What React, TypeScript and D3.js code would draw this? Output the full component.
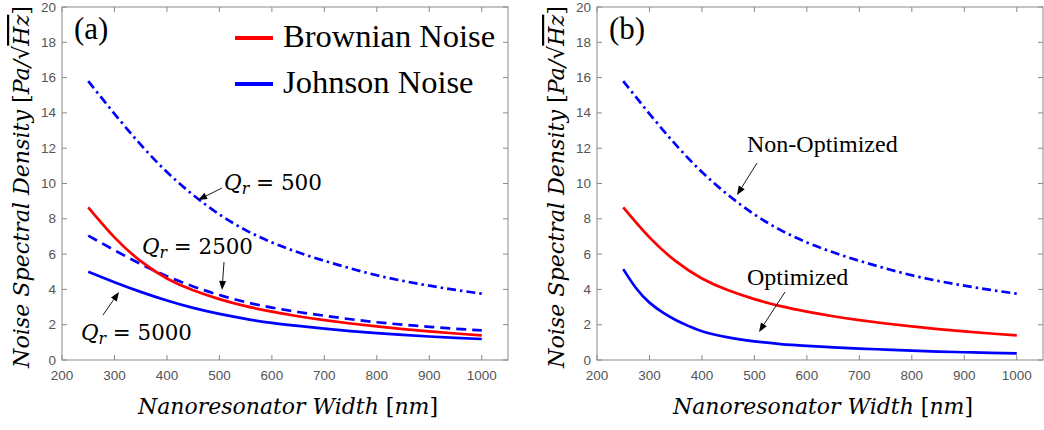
import React from "react";
import * as d3 from "d3";

// ---------- data ----------
const widths = [250, 300, 350, 400, 450, 500, 550, 600, 650, 700, 750, 800, 850, 900, 950, 1000];
const brownian = [8.65, 6.95, 5.6, 4.62, 3.95, 3.45, 3.05, 2.74, 2.48, 2.26, 2.07, 1.9, 1.75, 1.62, 1.5, 1.39];
const johnsonQ500 = [15.8, 13.95, 12.2, 10.65, 9.35, 8.25, 7.36, 6.66, 6.1, 5.62, 5.19, 4.8, 4.48, 4.21, 3.97, 3.76];
const johnsonQ2500 = [7.05, 6.22, 5.44, 4.75, 4.17, 3.68, 3.28, 2.97, 2.72, 2.51, 2.31, 2.14, 2.0, 1.88, 1.77, 1.68];
const johnsonQ5000 = [5.0, 4.41, 3.86, 3.37, 2.95, 2.61, 2.33, 2.1, 1.93, 1.78, 1.64, 1.52, 1.42, 1.33, 1.25, 1.19];
const optWidths = [250, 275, 300, 325, 350, 375, 400, 450, 500, 550, 600, 650, 700, 750, 800, 850, 900, 950, 1000];
const johnsonOptimized = [5.15, 4.05, 3.25, 2.7, 2.27, 1.92, 1.63, 1.28, 1.06, 0.9, 0.8, 0.72, 0.65, 0.59, 0.53, 0.48, 0.44, 0.4, 0.37];

const xTicks = [200, 300, 400, 500, 600, 700, 800, 900, 1000];
const yTicks = [0, 2, 4, 6, 8, 10, 12, 14, 16, 18, 20];
const legendLabels = ["Brownian Noise", "Johnson Noise"];

const RED = "#ff0000";
const BLUE = "#0000ff";
const AXIS = "#8a8a8a";
const TICKTXT = "#555555";

type Series = { xs: number[]; ys: number[]; color: string; dash?: string };

function Panel({ left, right, series, letter }: { left: number; right: number; series: Series[]; letter: string }) {
  const top = 7;
  const bottom = 360;
  const x = d3.scaleLinear().domain([200, 1050]).range([left, right]);
  const y = d3.scaleLinear().domain([0, 20]).range([bottom, top]);
  const tl = 5;
  return (
    <g>
      {series.map((s, i) => {
        const pts: [number, number][] = s.xs.map((v, j) => [v, s.ys[j]]);
        const line = d3
          .line<[number, number]>()
          .x((d) => x(d[0]))
          .y((d) => y(d[1]))
          .curve(d3.curveNatural);
        return (
          <path
            key={i}
            d={line(pts) || ""}
            fill="none"
            stroke={s.color}
            strokeWidth={2.7}
            strokeDasharray={s.dash}
          />
        );
      })}
      <rect x={left} y={top} width={right - left} height={bottom - top} fill="none" stroke={AXIS} strokeWidth={1} />
      {xTicks.map((t) => (
        <g key={"x" + t}>
          <line x1={x(t)} x2={x(t)} y1={bottom} y2={bottom - tl} stroke={AXIS} />
          <line x1={x(t)} x2={x(t)} y1={top} y2={top + tl} stroke={AXIS} />
          <text x={x(t)} y={bottom + 20} textAnchor="middle" fontFamily="Liberation Sans, Arial" fontSize={13.5} fill={TICKTXT}>
            {t}
          </text>
        </g>
      ))}
      {yTicks.map((t) => (
        <g key={"y" + t}>
          <line x1={left} x2={left + tl} y1={y(t)} y2={y(t)} stroke={AXIS} />
          <line x1={right} x2={right - tl} y1={y(t)} y2={y(t)} stroke={AXIS} />
          <text x={left - 6} y={y(t) + 4.5} textAnchor="end" fontFamily="Liberation Sans, Arial" fontSize={13.5} fill={TICKTXT}>
            {t}
          </text>
        </g>
      ))}
      <text x={left + 12} y={39} fontFamily="Liberation Serif, Times New Roman" fontSize={31} fill="#000">
        {letter}
      </text>
      <text
        transform={`translate(${left - 33},187) rotate(-90)`}
        textAnchor="middle"
        fontFamily="DejaVu Serif"
        fontStyle="italic"
        fontSize={22}
        textLength={362}
        lengthAdjust="spacingAndGlyphs"
        fill="#000"
      >
        <tspan>Noise Spectral Density </tspan>
        <tspan fontStyle="normal">[</tspan>
        <tspan>Pa/</tspan>
        <tspan fontStyle="normal">√</tspan>
        <tspan textDecoration="overline">Hz</tspan>
        <tspan fontStyle="normal">]</tspan>
      </text>
      <text
        x={(left + right) / 2 + 3}
        y={414}
        textAnchor="middle"
        fontFamily="DejaVu Serif"
        fontStyle="italic"
        fontSize={22}
        textLength={300}
        lengthAdjust="spacingAndGlyphs"
        fill="#000"
      >
        <tspan>Nanoresonator Width </tspan>
        <tspan fontStyle="normal">[</tspan>
        <tspan>nm</tspan>
        <tspan fontStyle="normal">]</tspan>
      </text>
    </g>
  );
}

function QLabel({ x, y, value, w }: { x: number; y: number; value: string; w: number }) {
  return (
    <text x={x} y={y} fontFamily="DejaVu Serif" fontSize={22} fill="#000" textLength={w} lengthAdjust="spacingAndGlyphs">
      <tspan fontStyle="italic">Q</tspan>
      <tspan fontStyle="italic" fontSize={16} dy={4}>r</tspan>
      <tspan dy={-4}>{" = " + value}</tspan>
    </text>
  );
}

function Arrow({ x1, y1, x2, y2 }: { x1: number; y1: number; x2: number; y2: number }) {
  const ang = Math.atan2(y2 - y1, x2 - x1);
  const L = 9;
  const W = 3.5;
  const bx = x2 - L * Math.cos(ang);
  const by = y2 - L * Math.sin(ang);
  const px = -Math.sin(ang) * W;
  const py = Math.cos(ang) * W;
  return (
    <g>
      <line x1={x1} y1={y1} x2={bx} y2={by} stroke="#000" strokeWidth={0.9} />
      <path d={`M${x2},${y2}L${bx + px},${by + py}L${bx - px},${by - py}Z`} fill="#000" />
    </g>
  );
}

export default function App() {
  const dashDot = "9,4,2.5,4";
  const dashed = "10,6";
  const leftSeries: Series[] = [
    { xs: widths, ys: johnsonQ500, color: BLUE, dash: dashDot },
    { xs: widths, ys: johnsonQ2500, color: BLUE, dash: dashed },
    { xs: widths, ys: brownian, color: RED },
    { xs: widths, ys: johnsonQ5000, color: BLUE },
  ];
  const rightSeries: Series[] = [
    { xs: widths, ys: johnsonQ500, color: BLUE, dash: dashDot },
    { xs: widths, ys: brownian, color: RED },
    { xs: optWidths, ys: johnsonOptimized, color: BLUE },
  ];
  return (
    <svg
      width={1044}
      height={430}
      style={{ position: "absolute", left: 0, top: 0, background: "#fff" }}
      xmlns="http://www.w3.org/2000/svg"
    >
      <rect x={0} y={0} width={1044} height={430} fill="#fff" />
      <Panel left={62} right={508} series={leftSeries} letter="(a)" />
      <Panel left={597} right={1043} series={rightSeries} letter="(b)" />

      {/* legend */}
      <line x1={235} x2={273} y1={38} y2={38} stroke={RED} strokeWidth={4} />
      <text x={283} y={47} fontFamily="Liberation Serif, Times New Roman" fontSize={32.5} fill="#000">
        {legendLabels[0]}
      </text>
      <line x1={235} x2={273} y1={84} y2={84} stroke={BLUE} strokeWidth={4} />
      <text x={283} y={93} fontFamily="Liberation Serif, Times New Roman" fontSize={32.5} fill="#000">
        {legendLabels[1]}
      </text>

      {/* annotations left */}
      <QLabel x={224} y={190} value="500" w={98} />
      <Arrow x1={222} y1={188} x2={198} y2={200} />
      <QLabel x={142} y={254} value="2500" w={111} />
      <Arrow x1={224} y1={262} x2={222} y2={290} />
      <QLabel x={81} y={340} value="5000" w={111} />
      <Arrow x1={103} y1={315} x2={119} y2={292} />

      {/* annotations right */}
      <text x={747} y={152} fontFamily="Liberation Serif, Times New Roman" fontSize={24} fill="#000">
        Non-Optimized
      </text>
      <Arrow x1={757} y1={163} x2={737} y2={195} />
      <text x={747} y={285} fontFamily="Liberation Serif, Times New Roman" fontSize={24} fill="#000">
        Optimized
      </text>
      <Arrow x1={785} y1={292} x2={759} y2={332} />
    </svg>
  );
}
